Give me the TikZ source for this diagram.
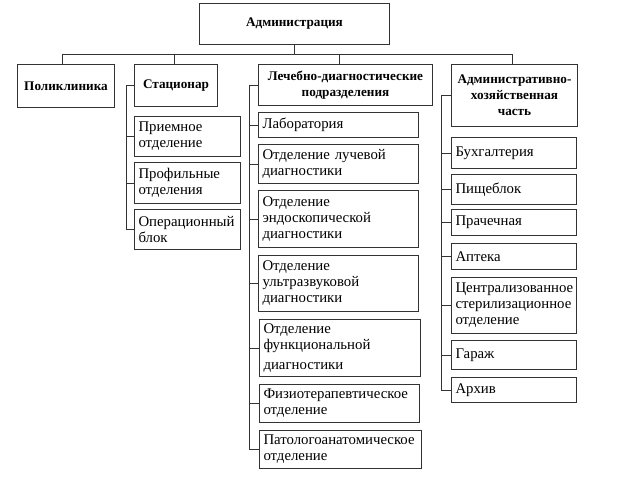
\documentclass[tikz,border=0pt]{standalone}
\usepackage{fontspec}
\setmainfont{Liberation Serif}
\usetikzlibrary{calc}
\tikzset{
  box/.style={draw=black!80, line width=1pt, anchor=north west, inner xsep=4pt, inner ysep=0pt, align=left, font=\fontsize{14.8}{16}\selectfont},
  hbox/.style={draw=black!80, line width=1pt, anchor=north west, inner sep=2pt, align=center, font=\fontsize{13.2}{16}\selectfont\bfseries},
  conn/.style={draw=black!80, line width=1pt}
}
\newcommand\kbox[6]{\pgfmathsetmacro\kw{#4-8}\node[box, minimum width=#4pt, minimum height=#5pt, text width=\kw pt] (#1) at (#2,-#3) {#6};}
\begin{document}
\begin{tikzpicture}[x=1pt,y=1pt]
\fill[white] (0,0) rectangle (635,-479);
\useasboundingbox (0,0) rectangle (635,-479);
% level 1
\node[hbox, minimum width=190pt, minimum height=41pt] (adm) at (199,-3) {Администрация};
% level 2
\node[hbox, minimum width=97pt, minimum height=43pt] (pol) at (17,-64) {Поликлиника};
\node[hbox, minimum width=83pt, minimum height=42pt] (sta) at (134,-64) {Стационар};
\node[hbox, minimum width=174pt, minimum height=41pt] (ld) at (258,-64) {Лечебно-диагностические\\подразделения};
\node[hbox, minimum width=126pt, minimum height=62pt] (ahc) at (451,-64) {Административно-\\хозяйственная\\часть};
% Stationar children
\kbox{pr}{134}{116}{106}{40}{Приемное\\отделение}
\kbox{prof}{134}{162}{106}{41}{Профильные\\отделения}
\kbox{op}{134}{209}{106}{40}{Операционный\\блок}
% LD children
\kbox{lab}{258}{112}{160}{25}{Лаборатория}
\kbox{luch}{258}{144}{160}{39}{Отделение лучевой\\диагностики}
\kbox{endo}{258}{190}{160}{57}{Отделение\\эндоскопической\\диагностики}
\kbox{uzi}{258}{255}{160}{56}{Отделение\\ультразвуковой\\диагностики}
\kbox{func}{259}{319}{161}{57}{Отделение\\функциональной\\[4pt]диагностики}
\kbox{fiz}{259}{384}{160}{38}{Физиотерапевтическое\\отделение}
\kbox{pat}{259}{430}{162}{38}{Патологоанатомическое\\отделение}
% AHC children
\kbox{buh}{451}{137}{125}{31}{Бухгалтерия}
\kbox{pish}{451}{174}{125}{30}{Пищеблок}
\kbox{prach}{451}{209}{125}{26}{Прачечная}
\kbox{apt}{451}{243}{125}{26}{Аптека}
\kbox{cso}{451}{277}{125}{56}{Централизованное\\стерилизационное\\отделение}
\kbox{gar}{451}{340}{125}{29}{Гараж}
\kbox{arh}{451}{377}{125}{25}{Архив}
% bus
\draw[conn] (adm.south) -- ++(0,-10);
\draw[conn] ([xshift=-4pt]pol.north) -- ++(0,10) -| ([xshift=-2pt]ahc.north);
\draw[conn] ([xshift=-2pt]sta.north) -- ++(0,10);
\draw[conn] ([xshift=-6pt]ld.north) -- ++(0,10);
% trunks
\coordinate (st) at ($(sta.west)+(-8,0)$);
\draw[conn] (sta.west) -- (st) |- (op.west);
\foreach \n in {pr,prof} \draw[conn] (\n.west) -- (\n.west -| st);
\coordinate (lt) at ($(ld.west)+(-9,0)$);
\draw[conn] (ld.west) -- (lt) |- (pat.west);
\foreach \n in {lab,luch,endo,uzi,func,fiz} \draw[conn] (\n.west) -- (\n.west -| lt);
\coordinate (at) at ($(ahc.west)+(-10,0)$);
\draw[conn] (ahc.west) -- (at) |- (arh.west);
\foreach \n in {buh,pish,prach,apt,cso,gar} \draw[conn] (\n.west) -- (\n.west -| at);
\end{tikzpicture}
\end{document}
